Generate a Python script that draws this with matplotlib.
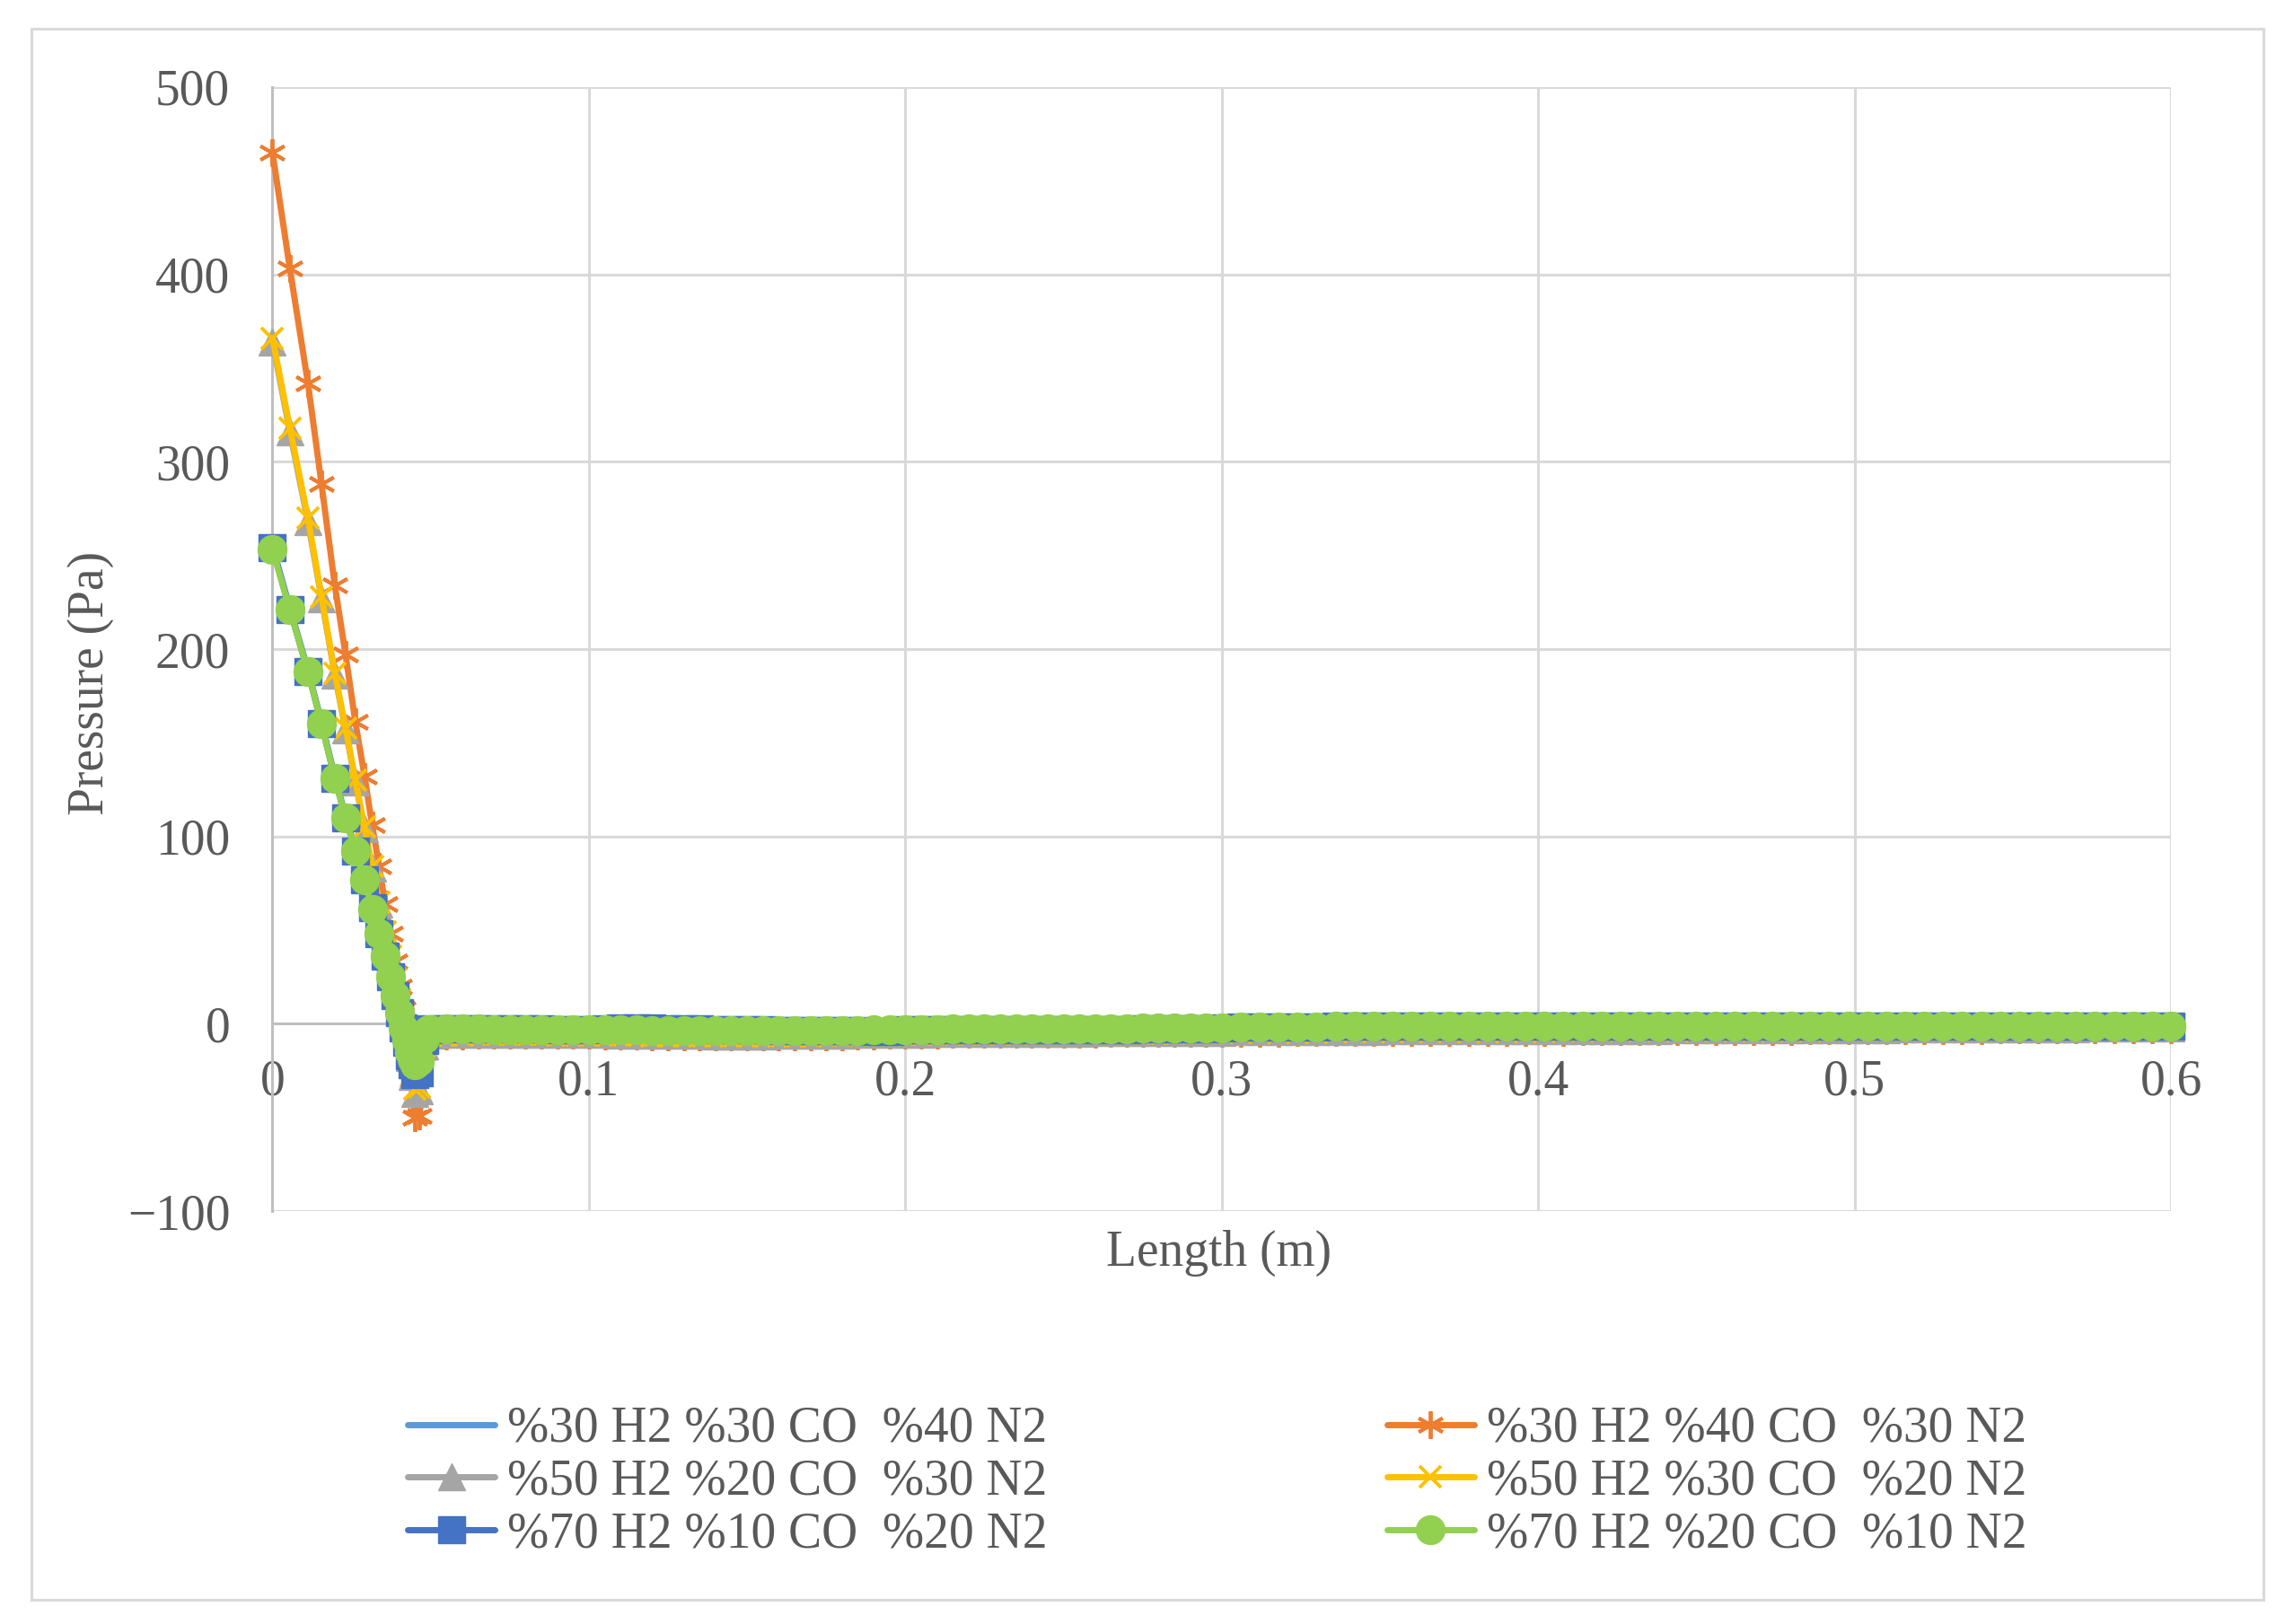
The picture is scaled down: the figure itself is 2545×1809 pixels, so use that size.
import matplotlib
matplotlib.use('Agg')
import matplotlib.pyplot as plt
from matplotlib.patches import Rectangle

plt.rcParams['font.family'] = ['Liberation Serif', 'DejaVu Serif']

# mesh positions along the channel (m)
x_head = [0.0000, 0.0055, 0.0112, 0.0155, 0.0197, 0.0231, 0.0262, 0.0291, 0.0315, 0.0337, 0.0356,
          0.0373, 0.0388, 0.0401, 0.0413, 0.0424, 0.0434, 0.0442, 0.0450, 0.0465, 0.0480, 0.0492]
x_tail = [0.050, 0.055, 0.060, 0.065, 0.070, 0.075, 0.080, 0.085, 0.090, 0.095,
          0.100, 0.105, 0.110, 0.115, 0.120, 0.125, 0.130, 0.135, 0.140, 0.145,
          0.150, 0.155, 0.160, 0.165, 0.170, 0.175, 0.180, 0.185, 0.190, 0.195,
          0.200, 0.205, 0.210, 0.215, 0.220, 0.225, 0.230, 0.235, 0.240, 0.245,
          0.250, 0.255, 0.260, 0.265, 0.270, 0.275, 0.280, 0.285, 0.290, 0.295,
          0.300,
          0.306, 0.312, 0.318, 0.324, 0.330, 0.336, 0.342, 0.348, 0.354, 0.360,
          0.366, 0.372, 0.378, 0.384, 0.390, 0.396, 0.402, 0.408, 0.414, 0.420,
          0.426, 0.432, 0.438, 0.444, 0.450, 0.456, 0.462, 0.468, 0.474, 0.480,
          0.486, 0.492, 0.498, 0.504, 0.510, 0.516, 0.522, 0.528, 0.534, 0.540,
          0.546, 0.552, 0.558, 0.564, 0.570, 0.576, 0.582, 0.588, 0.594, 0.600]
length_m = x_head + x_tail

# pressure (Pa) for each mixture
p_h30_co30 = [255, 222, 189, 161, 132, 111, 93, 78, 63, 49, 37, 26, 16, 7, -1, -8, -14, -18, -21, -19, -7, -3,
              -3.0, -2.9, -2.9, -2.9, -3.0, -3.0, -3.0, -3.0, -3.1, -3.1,
              -3.1, -3.1, -3.2, -3.2, -3.5, -3.5, -3.5, -3.6, -3.6, -3.6,
              -3.6, -3.6, -3.6, -3.5, -3.5, -3.5, -3.4, -3.4, -3.3, -3.2,
              -3.0, -3.0, -3.0, -2.9, -2.9, -2.9, -2.8, -2.8, -2.8, -2.7,
              -2.6, -2.6, -2.5, -2.5, -2.5, -2.4, -2.4, -2.4, -2.3, -2.3,
              -2.2,
              -1.7, -1.7, -1.7, -1.6, -1.6, -1.6, -1.6, -1.5, -1.5, -1.5,
              -1.5, -1.5, -1.5, -1.5, -1.4, -1.4, -1.4, -1.4, -1.4, -1.4,
              -1.4, -1.4, -1.4, -1.4, -1.3, -1.3, -1.3, -1.3, -1.3, -1.3,
              -1.3, -1.3, -1.3, -1.3, -1.2, -1.2, -1.2, -1.2, -1.2, -1.2,
              -1.2, -1.2, -1.2, -1.2, -1.1, -1.1, -1.1, -1.1, -1.1, -1.1]
p_h30_co40 = [465, 403, 342, 288, 234, 197, 161, 132, 106, 84, 64, 48, 33, 20, 8, -4, -16, -30, -50, -49, -15, -7,
              -6.8, -6.6, -6.4, -6.3, -6.3, -6.2, -6.2, -6.2, -6.2, -6.2,
              -6.3, -6.4, -6.5, -6.6, -6.8, -6.9, -7.0, -7.1, -7.2, -7.2,
              -7.2, -7.2, -7.2, -7.1, -7.0, -6.9, -6.8, -6.7, -6.5, -6.3,
              -6.1, -6.0, -5.9, -5.8, -5.8, -5.7, -5.7, -5.6, -5.6, -5.5,
              -5.5, -5.4, -5.4, -5.3, -5.3, -5.2, -5.2, -5.1, -5.1, -5.0,
              -5.0,
              -4.9, -4.9, -4.9, -4.8, -4.8, -4.8, -4.7, -4.7, -4.7, -4.6,
              -4.6, -4.6, -4.5, -4.5, -4.5, -4.4, -4.4, -4.4, -4.3, -4.3,
              -4.3, -4.2, -4.2, -4.2, -4.1, -4.1, -4.1, -4.0, -4.0, -4.0,
              -3.9, -3.9, -3.8, -3.8, -3.7, -3.7, -3.6, -3.6, -3.5, -3.5,
              -3.4, -3.4, -3.3, -3.3, -3.2, -3.2, -3.1, -3.1, -3.0, -3.0]
p_h50_co20 = [364, 316, 268, 227, 186, 157, 129, 104, 83, 64, 48, 35, 23, 12, 2, -8, -18, -28, -37, -36, -12, -5,
              -5.9, -5.7, -5.6, -5.5, -5.5, -5.5, -5.5, -5.5, -5.6, -5.6,
              -5.7, -5.8, -5.9, -6.0, -6.1, -6.2, -6.3, -6.3, -6.4, -6.4,
              -6.4, -6.4, -6.3, -6.2, -6.1, -6.0, -5.9, -5.8, -5.7, -5.6,
              -5.5, -5.4, -5.3, -5.3, -5.2, -5.2, -5.1, -5.1, -5.0, -5.0,
              -4.9, -4.9, -4.8, -4.8, -4.7, -4.7, -4.6, -4.6, -4.5, -4.5,
              -4.4,
              -4.2, -4.2, -4.1, -4.1, -4.1, -4.0, -4.0, -4.0, -3.9, -3.9,
              -3.9, -3.8, -3.8, -3.8, -3.7, -3.7, -3.7, -3.6, -3.6, -3.6,
              -3.5, -3.5, -3.5, -3.4, -3.4, -3.4, -3.3, -3.3, -3.3, -3.2,
              -3.2, -3.1, -3.1, -3.0, -3.0, -2.9, -2.9, -2.8, -2.8, -2.7,
              -2.7, -2.6, -2.6, -2.5, -2.5, -2.4, -2.4, -2.3, -2.3, -2.2]
p_h50_co30 = [366, 318, 270, 228, 187, 158, 130, 105, 84, 65, 49, 36, 24, 13, 3, -7, -17, -27, -35, -34, -12, -5,
              -6.2, -6.0, -5.9, -5.8, -5.8, -5.8, -5.8, -5.8, -5.9, -5.9,
              -6.0, -6.1, -6.2, -6.3, -6.4, -6.5, -6.6, -6.6, -6.7, -6.7,
              -6.7, -6.7, -6.6, -6.5, -6.4, -6.3, -6.2, -6.1, -6.0, -5.9,
              -5.8, -5.7, -5.6, -5.6, -5.5, -5.5, -5.4, -5.4, -5.3, -5.3,
              -5.2, -5.2, -5.1, -5.1, -5.0, -5.0, -4.9, -4.9, -4.8, -4.8,
              -4.7,
              -4.5, -4.5, -4.4, -4.4, -4.4, -4.3, -4.3, -4.3, -4.2, -4.2,
              -4.2, -4.1, -4.1, -4.1, -4.0, -4.0, -4.0, -3.9, -3.9, -3.9,
              -3.8, -3.8, -3.8, -3.7, -3.7, -3.7, -3.6, -3.6, -3.6, -3.5,
              -3.5, -3.4, -3.4, -3.3, -3.3, -3.2, -3.2, -3.1, -3.1, -3.0,
              -3.0, -2.9, -2.9, -2.8, -2.8, -2.7, -2.7, -2.6, -2.6, -2.5]
p_h70_co10 = [254, 221, 188, 160, 131, 110, 92, 77, 62, 48, 36, 25, 15, 6, -2, -10, -17, -22, -27, -26, -9, -3,
              -2.9, -2.8, -2.8, -2.8, -2.9, -2.9, -2.9, -2.9, -3.0, -3.0,
              -3.0, -2.6, -2.4, -2.4, -2.4, -2.7, -2.7, -2.7, -3.4, -3.4,
              -3.4, -3.4, -3.6, -3.6, -3.6, -3.6, -3.7, -3.9, -4.1, -4.1,
              -3.2, -3.1, -3.1, -3.0, -3.0, -3.0, -3.2, -3.3, -3.4, -3.4,
              -3.4, -3.3, -3.2, -3.1, -3.0, -2.9, -2.8, -2.7, -2.6, -2.5,
              -2.4,
              -1.6, -1.6, -1.6, -1.6, -1.6, -1.5, -1.5, -1.5, -1.5, -1.5,
              -1.5, -1.5, -1.5, -1.5, -1.4, -1.4, -1.4, -1.4, -1.4, -1.4,
              -1.4, -1.4, -1.4, -1.4, -1.3, -1.3, -1.3, -1.3, -1.3, -1.3,
              -1.3, -1.3, -1.3, -1.3, -1.2, -1.2, -1.2, -1.2, -1.2, -1.2,
              -1.2, -1.2, -1.2, -1.2, -1.1, -1.1, -1.1, -1.1, -1.1, -1.1]
p_h70_co20 = [253, 221, 188, 160, 131, 110, 92, 77, 61, 48, 36, 25, 15, 6, -2, -9, -15, -19, -22, -20, -8, -3,
              -3.0, -2.9, -2.9, -2.9, -3.0, -3.0, -3.0, -3.0, -3.1, -3.1,
              -3.1, -3.1, -3.2, -3.2, -3.6, -3.6, -3.6, -3.7, -3.7, -3.7,
              -3.7, -3.7, -3.7, -3.6, -3.6, -3.6, -3.5, -3.5, -3.4, -3.2,
              -3.0, -3.0, -3.0, -2.9, -2.9, -2.9, -2.8, -2.8, -2.8, -2.7,
              -2.6, -2.6, -2.5, -2.5, -2.5, -2.4, -2.4, -2.4, -2.3, -2.3,
              -2.2,
              -1.6, -1.6, -1.6, -1.6, -1.6, -1.5, -1.5, -1.5, -1.5, -1.5,
              -1.5, -1.5, -1.5, -1.5, -1.4, -1.4, -1.4, -1.4, -1.4, -1.4,
              -1.4, -1.4, -1.4, -1.4, -1.3, -1.3, -1.3, -1.3, -1.3, -1.3,
              -1.3, -1.3, -1.3, -1.3, -1.2, -1.2, -1.2, -1.2, -1.2, -1.2,
              -1.2, -1.2, -1.2, -1.2, -1.1, -1.1, -1.1, -1.1, -1.1, -1.1]

labels = ['%30 H2 %30 CO  %40 N2', '%30 H2 %40 CO  %30 N2', '%50 H2 %20 CO  %30 N2',
          '%50 H2 %30 CO  %20 N2', '%70 H2 %10 CO  %20 N2', '%70 H2 %20 CO  %10 N2']
x_ticks = [0, 0.1, 0.2, 0.3, 0.4, 0.5, 0.6]
x_tick_labels = ['0', '0.1', '0.2', '0.3', '0.4', '0.5', '0.6']
y_ticks = [-100, 0, 100, 200, 300, 400, 500]
y_tick_labels = ['\u2212100', '0', '100', '200', '300', '400', '500']

TXT = '#595959'
GRID = '#d9d9d9'
FS = 40

fig = plt.figure(figsize=(25.45, 18.09), dpi=100)
fig.patches.append(Rectangle((0.0138, 0.0149), 0.9768, 0.9674, transform=fig.transFigure,
                             fill=False, edgecolor=GRID, linewidth=2.2))
ax = fig.add_axes([0.11925, 0.25428, 0.83085, 0.69210])

series = [
    (p_h30_co30, dict(color='#5b9bd5', marker=None)),
    (p_h30_co40, dict(color='#ed7d31', marker=(6, 2, 0), ms=22, mew=2.8)),
    (p_h50_co20, dict(color='#a5a5a5', marker='^', ms=21, mew=1)),
    (p_h50_co30, dict(color='#ffc000', marker='x', ms=17, mew=2.8)),
    (p_h70_co10, dict(color='#4472c4', marker='s', ms=22, mew=1)),
    (p_h70_co20, dict(color='#92d050', marker='o', ms=23, mew=1)),
]
handles = []
for (vals, st), lab in zip(series, labels):
    h, = ax.plot(length_m, vals, color=st['color'], lw=5, marker=st['marker'],
                 ms=st.get('ms', 0), mew=st.get('mew', 0), mfc=st['color'], mec=st['color'],
                 label=lab, clip_on=False, zorder=3, solid_capstyle='round')
    handles.append(h)

ax.set_xlim(0, 0.6)
ax.set_ylim(-100, 500)
ax.set_xticks(x_ticks)
ax.set_xticklabels(x_tick_labels)
ax.set_yticks(y_ticks)
ax.set_yticklabels(y_tick_labels)
ax.grid(True, color=GRID, lw=2.2, zorder=0)
ax.set_axisbelow(True)
for s in ['top', 'right']:
    ax.spines[s].set_visible(False)
ax.spines['bottom'].set_position(('data', 0))
ax.spines['bottom'].set_color('#bfbfbf')
ax.spines['left'].set_color('#bfbfbf')
ax.spines['bottom'].set_linewidth(2.2)
ax.spines['left'].set_linewidth(2.2)
ax.spines['bottom'].set_zorder(1)
ax.spines['left'].set_zorder(1)
ax.tick_params(axis='both', length=0, labelsize=FS, labelcolor=TXT)
ax.tick_params(axis='x', pad=28)
ax.tick_params(axis='y', pad=34)

fig.text(1358 / 2545, 1 - 1396 / 1809, 'Length (m)', ha='center', va='center', fontsize=FS, color=TXT)
fig.text(101 / 2545, 1 - 761 / 1809, 'Pressure (Pa)', ha='center', va='center', fontsize=FS,
         color=TXT, rotation=90)

order = [0, 2, 4, 1, 3, 5]
fig.legend([handles[i] for i in order], [labels[i] for i in order], ncol=2, frameon=False,
           loc='upper left', bbox_to_anchor=(454 / 2545, 1 - 1566 / 1809), fontsize=FS,
           labelcolor=TXT, handlelength=1.75, handletextpad=0.25, columnspacing=6.8,
           labelspacing=0.12, borderpad=0, borderaxespad=0)

fig.savefig('out.png', dpi=100)
